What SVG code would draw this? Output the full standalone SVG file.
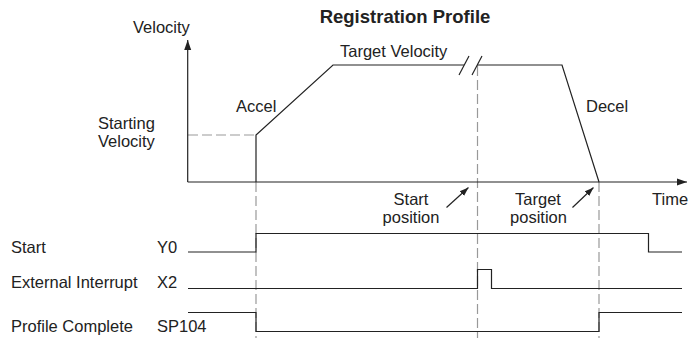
<svg xmlns="http://www.w3.org/2000/svg" width="690" height="338" viewBox="0 0 690 338">
<style>
  text { font-family: "Liberation Sans", Arial, Helvetica, sans-serif; font-size: 16.5px; fill: #222; }
  .title { font-weight: bold; font-size: 18.5px; }
  .mid { text-anchor: middle; }
  .ln { fill: none; stroke: #222; stroke-width: 1.2; }
  .dash { fill: none; stroke: #999; stroke-width: 1.2; stroke-dasharray: 10 4; }
</style>
<defs>
  <marker id="ah" markerWidth="10" markerHeight="8" refX="10" refY="4" orient="auto" markerUnits="userSpaceOnUse">
    <path d="M0,0.5 L10,4 L0,7.5 Z" fill="#222"/>
  </marker>
  <marker id="ahs" markerWidth="9" markerHeight="8" refX="9" refY="4" orient="auto" markerUnits="userSpaceOnUse">
    <path d="M0,0.8 L9,4 L0,7.2 Z" fill="#222"/>
  </marker>
</defs>

<text class="title mid" x="405" y="23">Registration Profile</text>

<g id="dashed-guides">
  <line class="dash" x1="188" y1="135" x2="256" y2="135"/>
  <line class="dash" x1="256" y1="182" x2="256" y2="338"/>
  <line class="dash" x1="477.5" y1="66" x2="477.5" y2="338"/>
  <line class="dash" x1="599" y1="182" x2="599" y2="338"/>
</g>

<g id="axes">
  <line class="ln" x1="187.7" y1="182" x2="187.7" y2="40" marker-end="url(#ah)"/>
  <line class="ln" x1="187.7" y1="182" x2="687" y2="182" marker-end="url(#ah)"/>
  <text x="133" y="33">Velocity</text>
  <text x="652" y="205">Time</text>
</g>

<g id="profile">
  <path class="ln" d="M256,182 L256,135 L333,65 L464,65"/>
  <path class="ln" d="M477,65 L562,65 L599,182"/>
  <line class="ln" x1="459" y1="75" x2="469" y2="56"/>
  <line class="ln" x1="472" y1="75" x2="482" y2="56"/>
  <text x="98" y="129">Starting</text>
  <text x="98" y="147">Velocity</text>
  <text x="236" y="112">Accel</text>
  <text x="340" y="56.5">Target Velocity</text>
  <text x="586" y="112">Decel</text>
</g>

<g id="position-markers">
  <text class="mid" x="411" y="205">Start</text>
  <text class="mid" x="411" y="222.5">position</text>
  <line class="ln" x1="446.5" y1="207.5" x2="468.5" y2="187.5" marker-end="url(#ahs)"/>
  <text class="mid" x="538" y="205">Target</text>
  <text class="mid" x="538.5" y="222.5">position</text>
  <line class="ln" x1="572.5" y1="207.5" x2="593.5" y2="187.5" marker-end="url(#ahs)"/>
</g>

<g id="signal-start">
  <text x="11" y="253">Start</text>
  <text x="157" y="253">Y0</text>
  <path class="ln" d="M188,252 L256,252 L256,233.5 L648.5,233.5 L648.5,252 L682,252"/>
</g>

<g id="signal-interrupt">
  <text x="11" y="287.5">External Interrupt</text>
  <text x="157" y="287.5">X2</text>
  <path class="ln" d="M188,288.5 L477.5,288.5 L477.5,269.5 L491.5,269.5 L491.5,288.5 L682,288.5"/>
</g>

<g id="signal-complete">
  <text x="11" y="331.5">Profile Complete</text>
  <text x="157" y="331.5">SP104</text>
  <path class="ln" d="M188,312.5 L256,312.5 L256,331.5 L599,331.5 L599,312.5 L682,312.5"/>
</g>
</svg>
